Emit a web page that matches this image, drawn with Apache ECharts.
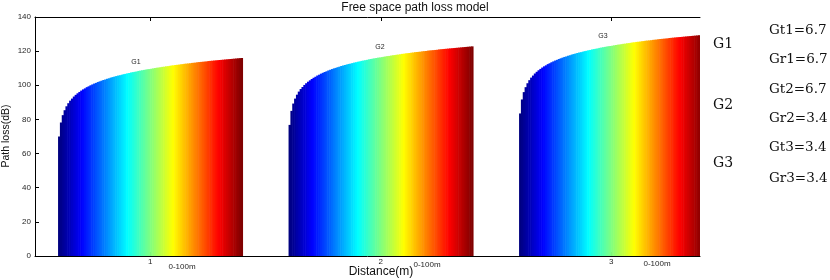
<!DOCTYPE html>
<html><head><meta charset="utf-8">
<script src="https://cdn.jsdelivr.net/npm/echarts@6/dist/echarts.min.js"></script>
<style>html,body{margin:0;padding:0;background:#fff}#c{width:830px;height:280px}</style>
</head><body><div id="c"></div>
<script>
const groupNames = ['G1', 'G2', 'G3'];
const xTickLabels = ['1', '2', '3'];
const rangeLabel = '0-100m';
const yTicks = [0, 20, 40, 60, 80, 100, 120, 140];
const gainLines = ['Gt1=6.7', 'Gr1=6.7', 'Gt2=6.7', 'Gr2=3.4', 'Gt3=3.4', 'Gr3=3.4'];

const g1 = [70.0,78.2,82.5,85.4,87.7,89.5,91.0,92.2,93.4,94.4,
95.3,96.1,96.9,97.6,98.2,98.9,99.4,100.0,100.5,101.0,
101.4,101.9,102.3,102.7,103.1,103.4,103.8,104.1,104.5,104.8,
105.1,105.4,105.7,105.9,106.2,106.5,106.7,107.0,107.2,107.5,
107.7,107.9,108.1,108.4,108.6,108.8,109.0,109.2,109.4,109.5,
109.7,109.9,110.1,110.3,110.4,110.6,110.8,110.9,111.1,111.2,
111.4,111.6,111.7,111.9,112.0,112.1,112.3,112.4,112.6,112.7,
112.8,112.9,113.1,113.2,113.3,113.5,113.6,113.7,113.8,113.9,
114.0,114.2,114.3,114.4,114.5,114.6,114.7,114.8,114.9,115.0,
115.1,115.2,115.3,115.4,115.5,115.6,115.7,115.8,115.9,116.0];

const g2 = [76.8,85.0,89.3,92.2,94.5,96.3,97.8,99.0,100.2,101.2,
102.1,102.9,103.7,104.4,105.0,105.7,106.2,106.8,107.3,107.8,
108.2,108.7,109.1,109.5,109.9,110.2,110.6,110.9,111.3,111.6,
111.9,112.2,112.5,112.7,113.0,113.3,113.5,113.8,114.0,114.3,
114.5,114.7,114.9,115.2,115.4,115.6,115.8,116.0,116.2,116.3,
116.5,116.7,116.9,117.1,117.2,117.4,117.6,117.7,117.9,118.0,
118.2,118.4,118.5,118.7,118.8,118.9,119.1,119.2,119.4,119.5,
119.6,119.7,119.9,120.0,120.1,120.3,120.4,120.5,120.6,120.7,
120.8,121.0,121.1,121.2,121.3,121.4,121.5,121.6,121.7,121.8,
121.9,122.0,122.1,122.2,122.3,122.4,122.5,122.6,122.7,122.8];

const g3 = [83.5,91.7,96.0,98.9,101.2,103.0,104.5,105.7,106.9,107.9,
108.8,109.6,110.4,111.1,111.7,112.4,112.9,113.5,114.0,114.5,
114.9,115.4,115.8,116.2,116.6,116.9,117.3,117.6,118.0,118.3,
118.6,118.9,119.2,119.4,119.7,120.0,120.2,120.5,120.7,121.0,
121.2,121.4,121.6,121.9,122.1,122.3,122.5,122.7,122.9,123.0,
123.2,123.4,123.6,123.8,123.9,124.1,124.3,124.4,124.6,124.7,
124.9,125.1,125.2,125.4,125.5,125.6,125.8,125.9,126.1,126.2,
126.3,126.4,126.6,126.7,126.8,127.0,127.1,127.2,127.3,127.4,
127.5,127.7,127.8,127.9,128.0,128.1,128.2,128.3,128.4,128.5,
128.6,128.7,128.8,128.9,129.0,129.1,129.2,129.3,129.4,129.5];

const groupsData = [g1, g2, g3];
const N = g1.length;
const groupWidth = 0.8;
const bw = groupWidth / N;

function clamp(v) { return Math.max(0, Math.min(1, v)); }
function jet(t) {
  const r = clamp(1.5 - Math.abs(4 * t - 3));
  const g = clamp(1.5 - Math.abs(4 * t - 2));
  const b = clamp(1.5 - Math.abs(4 * t - 1));
  return 'rgb(' + Math.round(r * 255) + ',' + Math.round(g * 255) + ',' + Math.round(b * 255) + ')';
}
const colors = [];
for (let k = 0; k < N; k++) colors.push(jet(k / (N - 1)));

const data = [];
groupsData.forEach((arr, gi) => arr.forEach((v, k) => data.push([gi + 1, k, v])));

const chart = echarts.init(document.getElementById('c'), null, { renderer: 'canvas' });
const sans = 'Liberation Sans';
const serif = 'DejaVu Serif';
const txtColor = '#262626';

const graphics = [
  { type: 'text', left: 'center', x: 0, style: { text: 'Free space path loss model', x: 381, y: 8, align: 'center', verticalAlign: 'middle', font: '12px ' + sans, fill: '#111' } },
  { type: 'text', style: { text: 'Distance(m)', x: 381, y: 272, align: 'center', verticalAlign: 'middle', font: '12px ' + sans, fill: '#111' } },
  { type: 'text', rotation: Math.PI / 2, x: 6, y: 136, style: { text: 'Path loss(dB)', x: 0, y: 0, align: 'center', verticalAlign: 'middle', font: '10.5px ' + sans, fill: '#111' } },
  { type: 'text', style: { text: rangeLabel, x: 182, y: 266.5, align: 'center', verticalAlign: 'middle', font: '8px ' + sans, fill: txtColor } },
  { type: 'text', style: { text: rangeLabel, x: 427, y: 265, align: 'center', verticalAlign: 'middle', font: '8px ' + sans, fill: txtColor } },
  { type: 'text', style: { text: rangeLabel, x: 657, y: 264, align: 'center', verticalAlign: 'middle', font: '8px ' + sans, fill: txtColor } },
  { type: 'text', style: { text: groupNames[0], x: 136, y: 62, align: 'center', verticalAlign: 'middle', font: '7px ' + sans, fill: txtColor } },
  { type: 'text', style: { text: groupNames[1], x: 380, y: 47.5, align: 'center', verticalAlign: 'middle', font: '7px ' + sans, fill: txtColor } },
  { type: 'text', style: { text: groupNames[2], x: 603, y: 36, align: 'center', verticalAlign: 'middle', font: '7px ' + sans, fill: txtColor } }
];
const bigY = [44.5, 105, 163.5];
groupNames.forEach((g, i) => graphics.push({ type: 'text', style: { text: g, x: 713, y: bigY[i], align: 'left', verticalAlign: 'middle', font: '14px ' + serif, fill: '#111' } }));
const gainY = [30.5, 59.5, 89.5, 118.5, 147.5, 178.5];
gainLines.forEach((g, i) => graphics.push({ type: 'text', style: { text: g, x: 769, y: gainY[i], align: 'left', verticalAlign: 'middle', font: '13.5px ' + serif, fill: '#111' } }));

const xMin = 0.5, xMax = 3.385;
chart.setOption({
  animation: false,
  backgroundColor: '#fff',
  grid: { left: 35, right: 130, top: 17, bottom: 24, containLabel: false },
  xAxis: [{
    type: 'value', min: xMin, max: xMax, position: 'bottom',
    axisLine: { show: true, onZero: false, lineStyle: { color: '#000', width: 1 } },
    axisTick: { show: true, inside: true, length: 4, customValues: [1, 2, 3], lineStyle: { color: '#000' } },
    axisLabel: { show: true, customValues: [1, 2, 3], formatter: v => xTickLabels[Math.round(v) - 1], fontSize: 8, fontFamily: sans, color: txtColor, margin: 2 },
    splitLine: { show: false }
  }, {
    type: 'value', min: xMin, max: xMax, position: 'top',
    axisLine: { show: true, onZero: false, lineStyle: { color: '#000', width: 1 } },
    axisTick: { show: true, inside: true, length: 4, customValues: [1, 2, 3], lineStyle: { color: '#000' } },
    axisLabel: { show: false },
    splitLine: { show: false }
  }],
  yAxis: {
    type: 'value', min: yTicks[0], max: yTicks[yTicks.length - 1], interval: 20,
    axisLine: { show: true, lineStyle: { color: '#000', width: 1 } },
    axisTick: { show: true, inside: true, length: 4, lineStyle: { color: '#000' } },
    axisLabel: { fontSize: 8, fontFamily: sans, color: txtColor, margin: 4 },
    splitLine: { show: false }
  },
  series: [{
    type: 'custom',
    xAxisIndex: 0,
    clip: true,
    data: data,
    encode: { x: 0, y: 2 },
    renderItem: function (params, api) {
      const g = api.value(0), k = api.value(1), v = api.value(2);
      const x0 = g - groupWidth / 2 + k * bw;
      const p0 = api.coord([x0, v]);
      const p1 = api.coord([x0 + bw, 0]);
      return {
        type: 'rect',
        shape: { x: p0[0], y: p0[1], width: p1[0] - p0[0] + 0.6, height: p1[1] - p0[1] },
        style: { fill: colors[k] }
      };
    }
  }],
  graphic: graphics
});
</script>
</body></html>
